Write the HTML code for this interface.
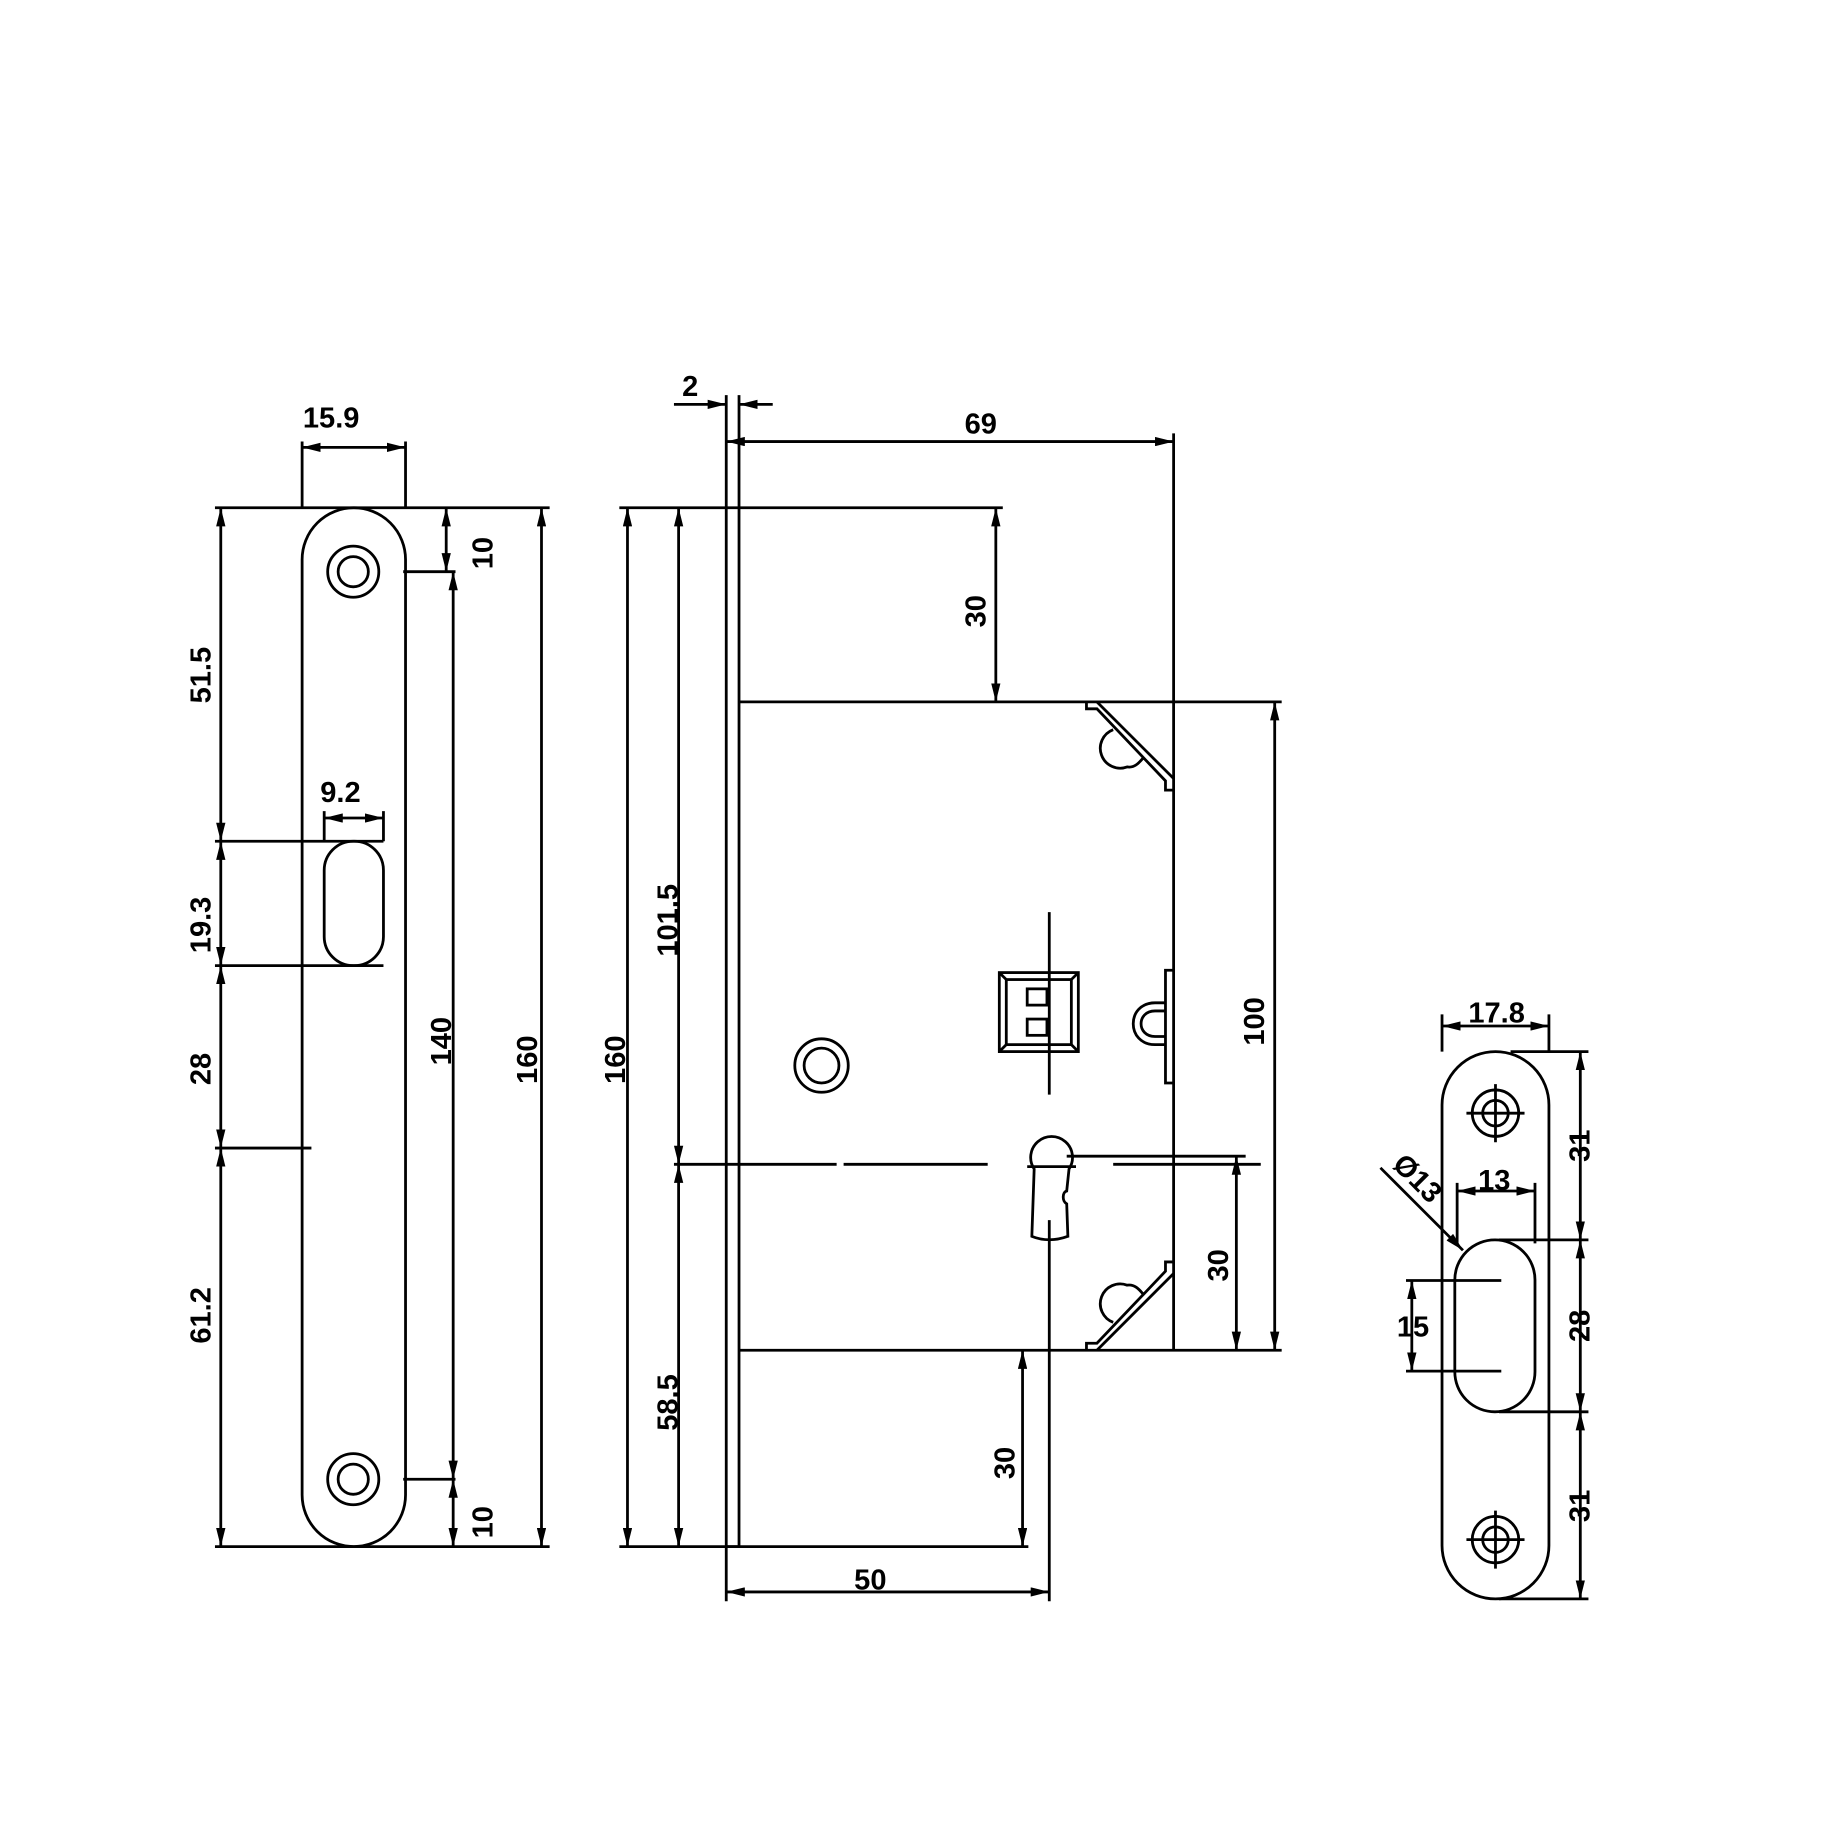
<!DOCTYPE html>
<html><head><meta charset="utf-8"><style>html,body{margin:0;padding:0;background:#fff}svg{display:block}</style></head>
<body>
<svg width="1822" height="1822" viewBox="0 0 1568 1568" xmlns="http://www.w3.org/2000/svg">
<defs>
<marker id="a" viewBox="0 0 16 8" refX="16" refY="4" markerWidth="16" markerHeight="8" markerUnits="userSpaceOnUse" orient="auto-start-reverse"><path d="M0,0L16,4L0,8z" fill="#000"/></marker>
</defs>
<g stroke="#000" stroke-width="2.4" fill="none">
<!-- LEFT FACEPLATE -->
<rect x="260" y="437" width="89" height="894" rx="44.5"/>
<circle cx="304" cy="492" r="22"/><circle cx="304" cy="492" r="13"/>
<circle cx="304" cy="1273" r="22"/><circle cx="304" cy="1273" r="13"/>
<rect x="279" y="724" width="51" height="107" rx="25"/>
<path d="M260 380V437M349 380V437M330 698V724M279 698V724"/>
<path d="M185 437H473M185 1331H473M185 724H330M185 831H330M185 988H268M347 492H392M347 1273H392"/>
<line x1="260" y1="385" x2="349" y2="385" marker-start="url(#a)" marker-end="url(#a)"/>
<line x1="279" y1="704" x2="330" y2="704" marker-start="url(#a)" marker-end="url(#a)"/>
<line x1="190" y1="437" x2="190" y2="724" marker-start="url(#a)" marker-end="url(#a)"/>
<line x1="190" y1="724" x2="190" y2="831" marker-start="url(#a)" marker-end="url(#a)"/>
<line x1="190" y1="831" x2="190" y2="988" marker-start="url(#a)" marker-end="url(#a)"/>
<line x1="190" y1="988" x2="190" y2="1331" marker-start="url(#a)" marker-end="url(#a)"/>
<line x1="384" y1="437" x2="384" y2="492" marker-start="url(#a)" marker-end="url(#a)"/>
<line x1="390" y1="492" x2="390" y2="1273" marker-start="url(#a)" marker-end="url(#a)"/>
<line x1="390" y1="1273" x2="390" y2="1331" marker-start="url(#a)" marker-end="url(#a)"/>
<line x1="466" y1="437" x2="466" y2="1331" marker-start="url(#a)" marker-end="url(#a)"/>

<!-- MIDDLE LOCK -->
<path d="M625 340V1378M636 340V1331M625 1331H636"/>
<path d="M533 437H863M533 1331H885M636 604H1103M636 1162H1103"/>
<path d="M1010 373V1162"/>
<line x1="580" y1="348" x2="625" y2="348" marker-end="url(#a)"/>
<line x1="665" y1="348" x2="636" y2="348" marker-end="url(#a)"/>
<line x1="625" y1="380" x2="1010" y2="380" marker-start="url(#a)" marker-end="url(#a)"/>
<line x1="857" y1="437" x2="857" y2="604" marker-start="url(#a)" marker-end="url(#a)"/>
<line x1="1097" y1="604" x2="1097" y2="1162" marker-start="url(#a)" marker-end="url(#a)"/>
<line x1="540" y1="437" x2="540" y2="1331" marker-start="url(#a)" marker-end="url(#a)"/>
<line x1="584" y1="437" x2="584" y2="1002" marker-start="url(#a)" marker-end="url(#a)"/>
<line x1="584" y1="1002" x2="584" y2="1331" marker-start="url(#a)" marker-end="url(#a)"/>
<line x1="1064" y1="995" x2="1064" y2="1162" marker-start="url(#a)" marker-end="url(#a)"/>
<line x1="880" y1="1162" x2="880" y2="1331" marker-start="url(#a)" marker-end="url(#a)"/>
<line x1="625" y1="1370" x2="903" y2="1370" marker-start="url(#a)" marker-end="url(#a)"/>
<path d="M580 1002H720M726 1002H850M958 1002H1085M918 995H1072"/>
<path d="M903 785V942M903 1050V1378"/>
<!-- latch top -->
<path d="M935 604V610H944L1003 672V680H1010"/>
<path d="M944 604L1010 670"/>
<path d="M958 628A15 15 0 0 0 970 660C976 661 980 657 984 652"/>
<!-- latch bottom -->
<path d="M935 1162V1156H944L1003 1094V1086H1010"/>
<path d="M944 1162L1010 1096"/>
<path d="M958 1138A15 15 0 0 1 970 1106C976 1105 980 1109 984 1114"/>
<!-- square follower -->
<rect x="860" y="837" width="68" height="68"/>
<rect x="866" y="843" width="56" height="56"/>
<path d="M860 837L866 843M928 837L922 843M860 905L866 899M928 905L922 899"/>
<rect x="884" y="851" width="17" height="14"/><rect x="884" y="877" width="17" height="14"/>
<!-- side bolt -->
<path d="M1010 835H1003V932H1010"/>
<path d="M1003 863H994C969 863 969 899 994 899H1003"/>
<path d="M1003 870H994C978 870 978 892 994 892H1003"/>
<!-- hole -->
<circle cx="707" cy="917" r="23"/><circle cx="707" cy="917" r="15"/>
<!-- keyhole -->
<path d="M890 1006A18 18 0 1 1 920 1006L918 1025C914 1026 914 1034 918 1036L919 1064C908 1068 898 1068 888 1064L890 1006Z"/>
<path d="M884 1004H926"/>

<!-- RIGHT STRIKE -->
<rect x="1241" y="905" width="92" height="471" rx="46"/>
<circle cx="1287" cy="958" r="20"/><circle cx="1287" cy="958" r="11"/>
<circle cx="1287" cy="1325" r="20"/><circle cx="1287" cy="1325" r="11"/>
<path d="M1262 958H1312M1287 933V983M1262 1325H1312M1287 1300V1350"/>
<rect x="1252" y="1067" width="69" height="148" rx="34.5"/>
<path d="M1241 873V905M1333 873V905M1254 1018V1070M1321 1018V1070"/>
<path d="M1300 905H1367M1290 1067H1367M1290 1215H1367M1290 1376H1367M1210 1102H1292M1210 1180H1292"/>
<line x1="1241" y1="883" x2="1333" y2="883" marker-start="url(#a)" marker-end="url(#a)"/>
<line x1="1254" y1="1025" x2="1321" y2="1025" marker-start="url(#a)" marker-end="url(#a)"/>
<line x1="1360" y1="905" x2="1360" y2="1067" marker-start="url(#a)" marker-end="url(#a)"/>
<line x1="1360" y1="1067" x2="1360" y2="1215" marker-start="url(#a)" marker-end="url(#a)"/>
<line x1="1360" y1="1215" x2="1360" y2="1376" marker-start="url(#a)" marker-end="url(#a)"/>
<line x1="1215" y1="1102" x2="1215" y2="1180" marker-start="url(#a)" marker-end="url(#a)"/>
<line x1="1188" y1="1005" x2="1259" y2="1076" marker-end="url(#a)"/>
</g>
<g font-family="Liberation Sans, sans-serif" font-weight="bold" font-size="25" fill="#000" text-anchor="middle">
<text x="285" y="368">15.9</text>
<text x="293" y="690">9.2</text>
<text transform="translate(181,581) rotate(-90)">51.5</text>
<text transform="translate(181,796) rotate(-90)">19.3</text>
<text transform="translate(181,920) rotate(-90)">28</text>
<text transform="translate(181,1132) rotate(-90)">61.2</text>
<text transform="translate(424,476) rotate(-90)">10</text>
<text transform="translate(388,896) rotate(-90)">140</text>
<text transform="translate(424,1310) rotate(-90)">10</text>
<text transform="translate(462,912) rotate(-90)">160</text>
<text x="594" y="341">2</text>
<text x="844" y="373">69</text>
<text transform="translate(848,526) rotate(-90)">30</text>
<text transform="translate(1088,879) rotate(-90)">100</text>
<text transform="translate(538,912) rotate(-90)">160</text>
<text transform="translate(583,792) rotate(-90)">101.5</text>
<text transform="translate(583,1207) rotate(-90)">58.5</text>
<text transform="translate(1057,1089) rotate(-90)">30</text>
<text transform="translate(873,1259) rotate(-90)">30</text>
<text x="749" y="1368">50</text>
<text x="1288" y="880">17.8</text>
<text x="1286" y="1024">13</text>
<text transform="translate(1368,986) rotate(-90)">31</text>
<text transform="translate(1368,1141) rotate(-90)">28</text>
<text transform="translate(1368,1296) rotate(-90)">31</text>
<text x="1216" y="1150">15</text>
<text transform="translate(1214,1020) rotate(45)">Ø13</text>
</g>
</svg>
</body></html>
